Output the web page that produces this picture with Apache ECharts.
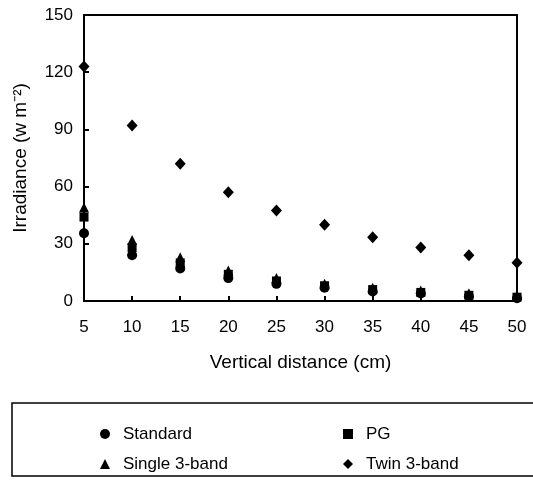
<!DOCTYPE html>
<html>
<head>
<meta charset="utf-8">
<script src="https://cdn.jsdelivr.net/npm/echarts@6/dist/echarts.min.js"></script>
<style>
    html, body { margin: 0; padding: 0; background: #fff; }
    #chart { width: 533px; height: 485px; }
</style>
</head>
<body>
<div id="chart"></div>
<script>
    // vertical distance (cm)
    var distances = [5, 10, 15, 20, 25, 30, 35, 40, 45, 50];
    // irradiance (w m-2) for each lamp type
    var standardVals = [35.5, 24, 17, 12, 9, 7, 5, 4, 2.5, 1.5];
    var pgVals = [44, 28, 20, 14, 10.5, 8, 6, 4.5, 3, 2];
    var singleVals = [49, 32, 23, 16, 12, 9, 7, 5.5, 4, 3];
    var twinVals = [123, 92, 72, 57, 47.5, 40, 33.5, 28, 24, 20];

    var yTicks = [0, 30, 60, 90, 120, 150];

    function pairs(vals) {
        return distances.map(function (d, i) { return [d, vals[i]]; });
    }

    var chart = echarts.init(document.getElementById('chart'));
    var font = 'Liberation Sans, Arial, sans-serif';
    var txt = { color: '#000', fontSize: 19, fontFamily: font };

    chart.setOption({
        animation: false,
        grid: {
            left: 84, right: 16, top: 15, bottom: 184,
            show: true, borderColor: '#000', borderWidth: 2
        },
        xAxis: {
            type: 'value', min: 5, max: 50, interval: 5,
            name: 'Vertical distance (cm)',
            nameLocation: 'middle', nameGap: 52,
            nameTextStyle: txt,
            axisLine: { lineStyle: { color: '#000', width: 2 } },
            axisTick: { inside: true, length: 5, lineStyle: { color: '#000', width: 2 } },
            axisLabel: { color: '#000', fontSize: 17, fontFamily: font, margin: 18 },
            splitLine: { show: false }
        },
        yAxis: {
            type: 'value', min: yTicks[0], max: yTicks[yTicks.length - 1], interval: 30,
            name: 'Irradiance (w m⁻²)',
            nameLocation: 'middle', nameGap: 54,
            nameTextStyle: txt,
            axisLine: { lineStyle: { color: '#000', width: 2 } },
            axisTick: { inside: true, length: 5, lineStyle: { color: '#000', width: 2 } },
            axisLabel: { color: '#000', fontSize: 17, fontFamily: font, margin: 11 },
            splitLine: { show: false }
        },
        legend: [
            {
                data: ['Standard', 'Single 3-band'],
                orient: 'vertical', left: 95, top: 420, itemGap: 12,
                itemWidth: 10, itemHeight: 10,
                itemStyle: { opacity: 1 },
                textStyle: { color: '#000', fontSize: 17, fontFamily: font, lineHeight: 18, padding: [0, 0, 0, 8] }
            },
            {
                data: ['PG', 'Twin 3-band'],
                orient: 'vertical', left: 338, top: 420, itemGap: 12,
                itemWidth: 10, itemHeight: 10,
                itemStyle: { opacity: 1 },
                textStyle: { color: '#000', fontSize: 17, fontFamily: font, lineHeight: 18, padding: [0, 0, 0, 8] }
            }
        ],
        graphic: [
            {
                type: 'rect',
                shape: { x: 12, y: 403, width: 540, height: 73 },
                style: { fill: 'none', stroke: '#000', lineWidth: 1.5 }
            }
        ],
        series: [
            { name: 'Standard', type: 'scatter', symbol: 'circle', symbolSize: 10,
              itemStyle: { color: '#000', opacity: 1 }, data: pairs(standardVals) },
            { name: 'PG', type: 'scatter', symbol: 'rect', symbolSize: 9,
              itemStyle: { color: '#000', opacity: 1 }, data: pairs(pgVals) },
            { name: 'Single 3-band', type: 'scatter', symbol: 'triangle', symbolSize: 10,
              itemStyle: { color: '#000', opacity: 1 }, data: pairs(singleVals) },
            { name: 'Twin 3-band', type: 'scatter', symbol: 'diamond', symbolSize: [11, 12],
              itemStyle: { color: '#000', opacity: 1 }, data: pairs(twinVals) }
        ]
    });
</script>
</body>
</html>
